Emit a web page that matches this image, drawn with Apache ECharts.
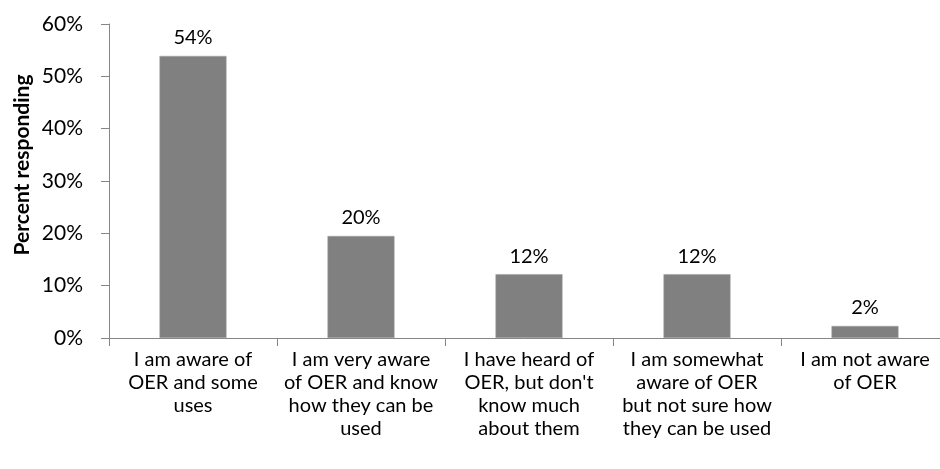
<!DOCTYPE html>
<html><head><meta charset="utf-8">
<script src="https://cdn.jsdelivr.net/npm/echarts@6/dist/echarts.min.js"></script>
<style>html,body{margin:0;padding:0;background:#fff}#c{width:940px;height:469px}</style>
</head><body><div id="c"></div>
<script>
var categories = [
  "I am aware of\nOER and some\nuses",
  "I am very aware\nof OER and know\nhow they can be\nused",
  "I have heard of\nOER, but don't\nknow much\nabout them",
  "I am somewhat\naware of OER\nbut not sure how\nthey can be used",
  "I am not aware\nof OER"
];
var values = [53.9, 19.5, 12.2, 12.2, 2.3];
var yTicks = [0, 10, 20, 30, 40, 50, 60];
var yTitle = 'Percent responding';
var font = "Lato, 'Open Sans', sans-serif";
var chart = echarts.init(document.getElementById('c'));
chart.setOption({
  animation: false,
  grid: {left: 109, right: -9, top: 24, bottom: 131, outerBoundsMode: 'none', containLabel: false},
  graphic: [{
    type: 'text', rotation: Math.PI / 2,
    x: 22, y: 165,
    style: {text: yTitle, fill: '#000', font: "bold 21px Lato, 'Open Sans', sans-serif", align: 'center', verticalAlign: 'middle'}
  }],
  xAxis: {
    type: 'category', data: categories, boundaryGap: true,
    axisLine: {lineStyle: {color: '#868686', width: 1}},
    axisTick: {show: true, length: 8, alignWithLabel: false, lineStyle: {color: '#868686'}},
    axisLabel: {interval: 0, color: '#000', fontFamily: font, fontSize: 20, lineHeight: 23, margin: 10, align: 'center'}
  },
  yAxis: {
    type: 'value', min: 0, max: 60, interval: 10,
    axisLine: {show: true, lineStyle: {color: '#868686'}},
    axisTick: {show: true, length: 8, lineStyle: {color: '#868686'}},
    splitLine: {show: false},
    axisLabel: {color: '#000', fontFamily: font, fontSize: 21, margin: 26,
      formatter: function(v){ return yTicks.indexOf(v) >= 0 ? v + '%' : ''; }}
  },
  series: [{
    type: 'bar', data: values, barWidth: 67,
    itemStyle: {color: '#808080', borderColor: '#a0a0a0', borderWidth: 0.5},
    label: {show: true, position: 'top', distance: 8, color: '#000', fontFamily: font, fontSize: 20,
      formatter: function(p){ return Math.round(p.value) + '%'; }}
  }]
});
</script></body></html>
